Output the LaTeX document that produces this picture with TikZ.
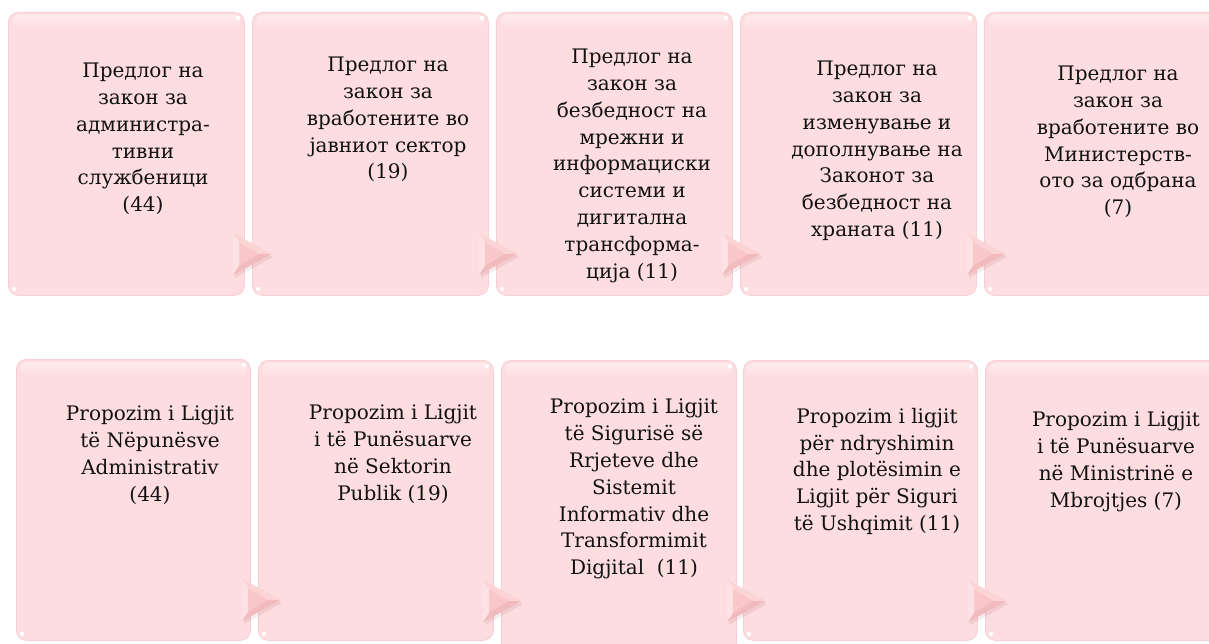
\documentclass[tikz,border=0pt]{standalone}
\usepackage{fontspec}
\setmainfont{DejaVu Serif}
\definecolor{boxpink}{HTML}{FDDDE0}
\definecolor{boxedge}{HTML}{F7D0D4}
\definecolor{hilite}{HTML}{FEEBED}
\definecolor{tripink}{HTML}{F9C6C9}
\definecolor{trilight}{HTML}{FCD4D6}
\definecolor{tridark}{HTML}{E7A9AD}
\definecolor{txtcol}{HTML}{111111}
\tikzset{
  lawbox/.style={draw=boxedge, line width=0.8pt, fill=boxpink, rounded corners=10pt,
    inner sep=0pt, anchor=north west},
  lawtext/.style={anchor=north, align=center, inner sep=0pt, text=txtcol,
    font=\fontsize{20}{26.8}\selectfont},
}
% name, x1, y1, x2, y2
\newcommand\lawpanel[5]{%
  \node[lawbox, minimum width=#4pt-#2pt, minimum height=#5pt-#3pt] (#1) at (#2,#3) {};
  \shade[top color=hilite, bottom color=boxpink, rounded corners=6pt]
    (#2+4,#3+3) rectangle (#4-4,#3+17);
  \fill[white] (#4-6,#3+6) circle (2.2);
  \fill[white] (#2+6,#5-6) circle (2.2);
}
% left x, top y
\newcommand\flowtri[2]{%
  \fill[black!60!red, opacity=0.08] (#1+2,#2+3) -- (#1+40,#2+24) -- (#1+2,#2+45) -- cycle;
  \fill[tripink] (#1,#2) -- (#1+38,#2+21) -- (#1,#2+42) -- cycle;
  \fill[trilight] (#1,#2) -- (#1+38,#2+21) -- (#1+26,#2+21) -- (#1+6,#2+9) -- cycle;
  \fill[white, opacity=0.5] (#1,#2) -- (#1+6,#2+9) -- (#1+6,#2+33) -- (#1,#2+42) -- cycle;
  \fill[tridark, opacity=0.4] (#1,#2+42) -- (#1+6,#2+33) -- (#1+26,#2+21) -- (#1+38,#2+21) -- cycle;
}
\begin{document}
\begin{tikzpicture}[x=1pt, y=-1pt]
\useasboundingbox (0,0) rectangle (1209,644);
\fill[white] (0,0) rectangle (1209,644);
% top row
\lawpanel{a1}{8}{12}{244}{295}
\lawpanel{a2}{252}{12}{488}{295}
\lawpanel{a3}{496}{12}{732}{295}
\lawpanel{a4}{740}{12}{976}{295}
\lawpanel{a5}{984}{12}{1222}{295}
% bottom row
\lawpanel{b1}{16}{359}{250}{640}
\lawpanel{b2}{258}{360}{493}{640}
\lawpanel{b3}{501}{360}{736}{655}
\lawpanel{b4}{743}{360}{977}{640}
\lawpanel{b5}{985}{360}{1222}{640}
% arrows
\flowtri{233}{233}
\flowtri{479}{233}
\flowtri{722}{233}
\flowtri{967}{233}
\flowtri{242}{579}
\flowtri{483}{580}
\flowtri{727}{580}
\flowtri{968}{580}
% texts top
\node[lawtext] (ta1) at (143,63) {Предлог на\\закон за\\администра-\\тивни\\службеници\\(44)};
\node[lawtext] (ta2) at (388,57) {Предлог на\\закон за\\вработените во\\јавниот сектор\\(19)};
\node[lawtext] (ta3) at (632,49) {Предлог на\\закон за\\безбедност на\\мрежни и\\информациски\\системи и\\дигитална\\трансформа-\\ција (11)};
\node[lawtext] (ta4) at (877,61) {Предлог на\\закон за\\изменување и\\дополнување на\\Законот за\\безбедност на\\храната (11)};
\node[lawtext] (ta5) at (1118,66) {Предлог на\\закон за\\вработените во\\Министерств-\\ото за одбрана\\(7)};
% texts bottom
\node[lawtext] (tb1) at (150,406) {Propozim i Ligjit\\të Nëpunësve\\Administrativ\\(44)};
\node[lawtext] (tb2) at (393,405) {Propozim i Ligjit\\i të Punësuarve\\në Sektorin\\Publik (19)};
\node[lawtext] (tb3) at (634,399) {Propozim i Ligjit\\të Sigurisë së\\Rrjeteve dhe\\Sistemit\\Informativ dhe\\Transformimit\\Digjital\ \ (11)};
\node[lawtext] (tb4) at (877,408) {Propozim i ligjit\\për ndryshimin\\dhe plotësimin e\\Ligjit për Siguri\\të Ushqimit (11)};
\node[lawtext] (tb5) at (1116,412) {Propozim i Ligjit\\i të Punësuarve\\në Ministrinë e\\Mbrojtjes (7)};
\end{tikzpicture}
\end{document}
